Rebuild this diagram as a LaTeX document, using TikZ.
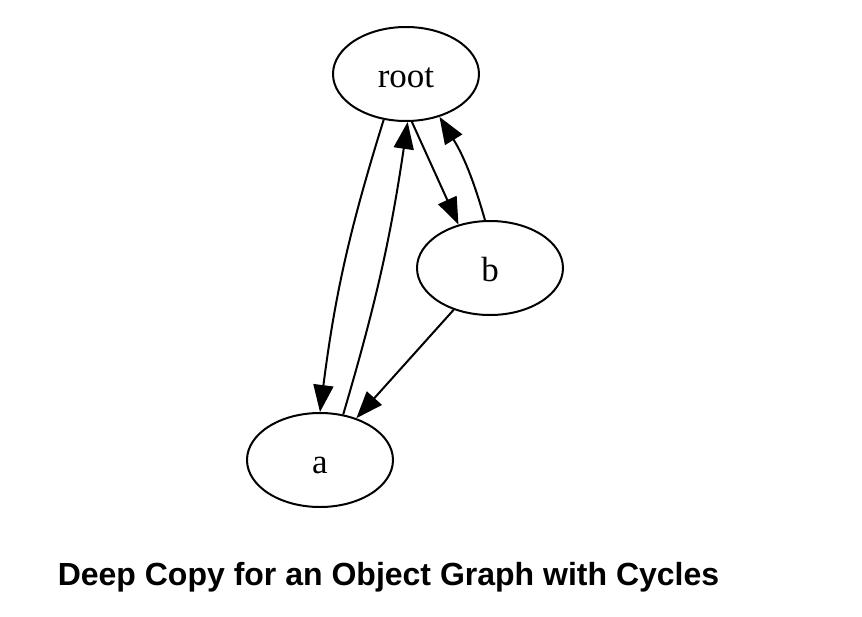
\documentclass[tikz,border=0pt]{standalone}
\usepackage{fontspec}
\setmainfont{Liberation Serif}
\newfontfamily\capfont{Liberation Sans}
\usepackage{tikz}
\usetikzlibrary{arrows.meta,positioning,shapes.geometric}
\tikzset{
objnode/.style={draw,ellipse,line width=2pt,minimum width=146pt,minimum height=94pt,inner sep=0pt,font=\fontsize{35}{38}\selectfont,text depth=0pt,text height=26pt},
arrow/.style={-{Triangle[length=27pt,width=20pt]},line width=2pt},
caption/.style={font=\capfont\bfseries\fontsize{32}{36}\selectfont,inner sep=0pt}
}

\begin{document}
\begin{tikzpicture}[x=1pt,y=1pt,node distance=194pt and 84pt,on grid]
\useasboundingbox (-406,-542) rectangle (456,74);
\node[objnode] (root) at (0,0) {root};
\node[objnode,below right=of root] (b) {b};
\node[objnode,below left=192pt and 170pt of b] (a) {a};
\node[caption,anchor=base] (cap) at (-17.5,-511) {Deep Copy for an Object Graph with Cycles};

\draw[arrow] (root.244) to[bend right=5] (a.90);
\draw[arrow] (a.63) to[bend right=4] (root.272);
\draw[arrow] (root.277) -- (b.126);
\draw[arrow] (b.96) to[bend right=8] (root.308);
\draw[arrow] (b.229) -- (a.49);
\end{tikzpicture}
\end{document}
